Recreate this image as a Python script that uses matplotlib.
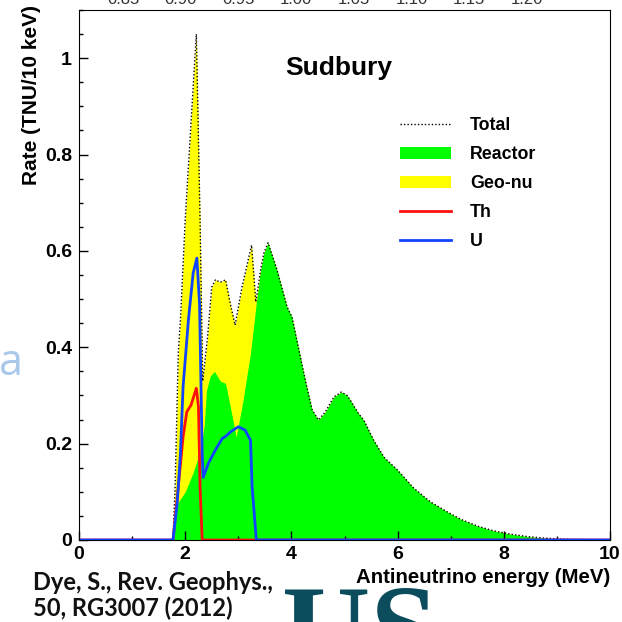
import matplotlib
matplotlib.use("Agg")
import matplotlib.pyplot as plt
from matplotlib.lines import Line2D
from matplotlib.patches import Patch

# values (energy in MeV, rate in TNU/10 keV)
# reactor spectrum above ~3.3 MeV, where geo-nu is zero and total = reactor
e_tail = [3.34, 3.42, 3.48, 3.56, 3.73, 3.92, 4.01, 4.13, 4.26, 4.39, 4.51, 4.64,
          4.80, 4.94, 5.05, 5.11, 5.26, 5.36, 5.55, 5.74, 6.00, 6.30, 6.62, 6.94,
          7.19, 7.50, 7.81, 8.13, 8.45, 8.75, 9.08, 9.40, 10.0]
r_tail = [0.494, 0.56, 0.595, 0.617, 0.56, 0.483, 0.463, 0.40, 0.332, 0.27, 0.249, 0.266,
          0.297, 0.307, 0.30, 0.29, 0.263, 0.249, 0.207, 0.172, 0.145, 0.108, 0.079, 0.058,
          0.043, 0.029, 0.019, 0.012, 0.007, 0.004, 0.002, 0.001, 0.0]

e_total_low = [0.0, 1.77, 1.81, 1.87, 1.91, 2.00, 2.21, 2.28, 2.33, 2.42, 2.50, 2.57,
               2.66, 2.76, 2.85, 2.94, 3.07, 3.25, 3.33]
total_low = [0.0, 0.0, 0.11, 0.39, 0.456, 0.664, 1.05, 0.664, 0.33, 0.42, 0.525, 0.54,
             0.535, 0.54, 0.49, 0.446, 0.525, 0.612, 0.494]

e_reactor_low = [0.0, 1.77, 1.85, 2.00, 2.15, 2.30, 2.36, 2.40, 2.47, 2.55, 2.66, 2.76,
                 2.85, 2.96, 3.08, 3.23]
reactor_low = [0.0, 0.0, 0.075, 0.10, 0.14, 0.19, 0.24, 0.31, 0.34, 0.35, 0.33, 0.325,
               0.276, 0.214, 0.284, 0.388]

e_th = [0.0, 1.77, 1.87, 1.96, 2.03, 2.11, 2.21, 2.25, 2.28, 2.32, 10.0]
th = [0.0, 0.0, 0.11, 0.214, 0.266, 0.28, 0.315, 0.276, 0.11, 0.0, 0.0]

e_u = [0.0, 1.77, 1.85, 1.91, 1.96, 2.06, 2.15, 2.22, 2.27, 2.32, 2.34, 2.44, 2.57,
       2.70, 2.75, 2.85, 3.00, 3.13, 3.23, 3.26, 3.34, 10.0]
u = [0.0, 0.0, 0.077, 0.18, 0.318, 0.456, 0.554, 0.585, 0.49, 0.18, 0.13, 0.16, 0.187,
     0.211, 0.214, 0.224, 0.235, 0.228, 0.207, 0.11, 0.0, 0.0]

e_total = e_total_low + e_tail[1:]
total = total_low + r_tail[1:]
e_reactor = e_reactor_low + e_tail
reactor = reactor_low + r_tail

top_labels = ["0.85", "0.90", "0.95", "1.00", "1.05", "1.10", "1.15", "1.20"]

plt.rcParams['font.family'] = ['Liberation Sans', 'DejaVu Sans']
plt.rcParams['font.weight'] = 'bold'

fig = plt.figure(figsize=(6.22, 6.22), dpi=100)
ax = fig.add_axes([79 / 622, 82 / 622, 531 / 622, 530 / 622])

ax.fill_between(e_total, 0, total, color='#ffff00', lw=0)
ax.fill_between(e_reactor, 0, reactor, color='#00ff00', lw=0)
ax.plot(e_total, total, color='black', lw=1.0, ls=(0, (1, 1.5)))
ax.plot(e_th, th, color='#ff1010', lw=2.0)
ax.plot(e_u, u, color='#1144ff', lw=2.0)

ax.set_xlim(0, 10)
ax.set_ylim(0, 1.1)
ax.set_xticks([0, 2, 4, 6, 8, 10])
ax.set_xticks(range(0, 11), minor=True)
ax.set_yticks([0, 0.2, 0.4, 0.6, 0.8, 1.0])
ax.set_yticklabels(['0', '0.2', '0.4', '0.6', '0.8', '1'])
ax.set_yticks([i * 0.05 for i in range(23)], minor=True)
ax.tick_params(which='both', direction='in', top=False, right=False, labelsize=14)
ax.tick_params(which='major', length=6.5, width=1)
ax.tick_params(which='minor', length=3, width=1)
ax.tick_params(axis='x', pad=4)
ax.tick_params(axis='y', pad=5)

ax.set_xlabel('Antineutrino energy (MeV)', fontsize=14.7, fontweight='bold')
ax.xaxis.set_label_coords(1.0, -0.052)
ax.xaxis.label.set_horizontalalignment('right')
ax.set_ylabel('Rate (TNU/10 keV)', fontsize=15, fontweight='bold', loc='top')
ax.yaxis.set_label_coords(-0.072, 1.009)

ax.text(0.49, 0.89, 'Sudbury', transform=ax.transAxes, ha='center', va='center',
        fontsize=19, fontweight='bold')

handles = [Line2D([], [], color='black', lw=1.0, ls=(0, (1, 1.5))),
           Patch(facecolor='#00ff00', edgecolor='none'),
           Patch(facecolor='#ffff00', edgecolor='none'),
           Line2D([], [], color='#ff1010', lw=2.0),
           Line2D([], [], color='#1144ff', lw=2.0)]
ax.legend(handles, ['Total', 'Reactor', 'Geo-nu', 'Th', 'U'], loc='upper left',
          bbox_to_anchor=(400 / 622, (622 - 117) / 622), bbox_transform=fig.transFigure,
          frameon=False, fontsize=12.8, borderpad=0, borderaxespad=0,
          handlelength=2.87, handletextpad=1.07, labelspacing=0.68)

# pieces of the surrounding slide
fig.text(33 / 622, (622 - 590) / 622, 'Dye, S., Rev. Geophys.,', fontsize=17,
         fontweight='bold', family=['Lato', 'DejaVu Sans'], color='#111111')
fig.text(33 / 622, (622 - 616) / 622, '50, RG3007 (2012)', fontsize=17,
         fontweight='bold', family=['Lato', 'DejaVu Sans'], color='#111111')
fig.text(282 / 622, (622 - 670) / 622, 'US', fontsize=88, fontweight='bold',
         family=['Liberation Serif', 'DejaVu Serif'], color='#0b4d5c', va='baseline')
fig.text(-1 / 622, (622 - 364) / 622, 'a', fontsize=31, fontweight='normal',
         family=['Open Sans', 'DejaVu Sans'], color='#a9c8ea', ha='left', va='center')
for i, lab in enumerate(top_labels):
    fig.text((123 + 57.7 * i) / 622, (622 - 4) / 622, lab, fontsize=12,
             fontweight='normal', color='#333333', ha='center', va='baseline')

fig.savefig('out.png', dpi=100)
